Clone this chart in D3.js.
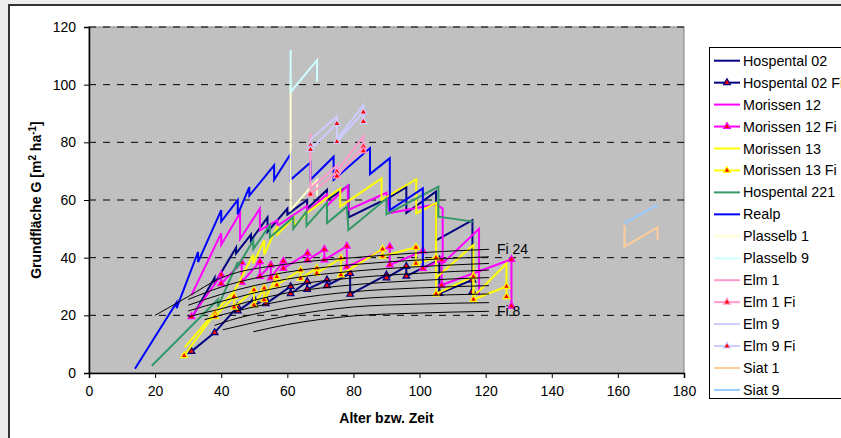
<!DOCTYPE html>
<html>
<head>
<meta charset="utf-8">
<script src="https://cdn.jsdelivr.net/npm/d3@7"></script>
<style>
  body { margin: 0; background: #ededed; }
  svg { display: block; font-family: "Liberation Sans", Arial, sans-serif; }
</style>
</head>
<body>
<svg id="chart" width="841" height="438"></svg>
<script>
// age / basal area pairs
var hospental02 = [[31,19],[38,33],[38,31],[44.5,43.5],[44.5,41.5],[49,48],[49,46],[54,54],[54,49],[60,57],[60,55],[66,60],[66,57],[72,63.5],[72,60],[78.5,65],[78.5,54],[91,61],[96,64.5],[96,55.5],[105,63],[105,46],[116,53],[116,27.5]];
var hospental02Fi = [[31,7.5],[38,14],[45,23],[45,21.5],[50,25.5],[50,23.5],[53.5,25.5],[53.5,24],[61,30],[61,27.5],[66,31.7],[66,29],[72,32.3],[72,30.3],[79,34.5],[79,27.3],[90,34],[90,33],[96,37],[96,33.6],[106,39.2],[106,27.6],[116,32.3],[116,28.2]];
var morissen12 = [[31,27],[40,48.5],[40,44.5],[45.7,55.5],[45.7,46.5],[51.7,57],[51.7,49.5],[57,53],[57,51],[66,58],[66,56],[72,62],[72,58],[78.3,65],[78.3,56.5],[90,62.5],[91,55.5],[105,58.5],[107,57],[107,38],[118,50],[118,27]];
var morissen12Fi = [[31,19.5],[40,34],[40,31],[46.2,38.3],[46.2,31.5],[51.7,38.6],[51.7,33.5],[55,37.5],[55,33],[58.8,38.8],[58.8,36.3],[66.1,41.5],[66.1,39.2],[71.2,42.9],[71.2,39.2],[78,44],[78,36.8],[91,43.8],[91,37.5],[101,42.3],[101,36.3],[106.7,39.2],[106.7,30.5],[127.8,39.4],[127.8,23.2]];
var morissen13 = [[29,9],[38,21],[44,28.5],[49.7,41],[49.7,38],[53,46],[53,41],[57,51],[57,48],[62,54],[62,51],[67,56.5],[76,64],[76,57.7],[88.5,67.5],[88.5,60],[99,67.2],[99,55.4],[105,59],[105,33],[116.3,44.4],[116.3,26.5],[126.3,38],[126.3,30]];
var morissen13Fi = [[28.8,6],[38.1,20.7],[38.1,19.5],[43.9,26.5],[43.9,22.8],[49.9,28.8],[49.9,23.6],[53,29.4],[53,25.4],[56.8,33.4],[56.8,30.5],[64,35.7],[64,32.8],[68.9,36.3],[68.9,34.6],[76.2,39.8],[76.2,34],[88.8,43],[88.8,40.5],[98.9,43.6],[98.9,38],[105,40],[105,27.4],[116.3,33.5],[116.3,25.5],[126.3,30],[126.3,26.5]];
var hospental221 = [[19,2.5],[39,25.5],[39,23],[45,38.5],[45,37],[49.7,46],[49.7,43],[54.7,51.3],[54.7,47],[61.8,54],[61.8,50],[65.8,56],[65.8,51],[72,59],[72,52],[78,57.7],[78.5,49.6],[90,60.5],[90,55],[105.7,64.6],[105.7,54.2],[116.3,52.5]];
var realp = [[13.9,1.5],[26.5,24.5],[26.5,22.5],[33,42],[33,38.5],[40,56.5],[40,52.5],[45,60],[45,55],[48.5,64.5],[48.5,61.5],[56,72],[56,67],[61,76],[61,67],[67,73],[67,67],[74,75],[74,67],[85,78],[85,69],[91,74.5],[91,56.5],[101,64],[101,37]];
var plasselb1 = [[61,102],[61,56.5],[69,67],[69,61.5]];
var plasselb9 = [[61,112],[61,97.5],[69,108.5],[69,101]];
var elm1 = [[67,83],[67,64],[75,72],[75,70],[83,82],[83,79]];
var elm1Fi = [[67,62],[75,69.8],[75,68.3],[83,78.5],[83,77]];
var elm9 = [[67,81],[75,89],[75,81],[83,93],[83,87.5]];
var elm9Fi = [[67,79],[67,77.5],[75,86.5],[75,80.2],[83,90.5],[83,87.2]];
var siat1 = [[162,51.3],[162,43.8],[172,50.5],[172,46]];
var siat9 = [[162,52],[172,58.3]];

// Fi site curves, Fi 24 down to Fi 8
var fiNames = ["Fi 24","Fi 22","Fi 20","Fi 18","Fi 16","Fi 14","Fi 12","Fi 10","Fi 8"];
var fiCurves = [
  [[20,20],[30,26.5],[40,33],[60,37.8],[80,40],[100,41.7],[121,42.9]],
  [[30,25.5],[40,29.8],[60,35],[80,37.6],[100,39.2],[121,40.3]],
  [[30,23.5],[40,27.3],[60,32.6],[80,35.3],[100,36.9],[121,38]],
  [[30,21.5],[40,24.8],[60,30.2],[80,33],[100,34.6],[121,35.7]],
  [[30,19.5],[40,22.3],[60,27.8],[80,30.6],[100,32.1],[121,33.1]],
  [[35,18.5],[40,20.1],[60,25.3],[80,28.2],[100,29.5],[121,30.3]],
  [[38,16.5],[40,17.3],[60,22.6],[80,25.6],[100,26.8],[121,27.4]],
  [[40.5,15],[60,19.8],[80,22.9],[100,23.9],[121,24.4]],
  [[49.7,14.3],[60,16.8],[80,19.8],[100,20.8],[121,21.4]]
];

var seriesNames = ["Hospental 02","Hospental 02 Fi","Morissen 12","Morissen 12 Fi","Morissen 13","Morissen 13 Fi","Hospental 221","Realp","Plasselb 1","Plasselb 9","Elm 1","Elm 1 Fi","Elm 9","Elm 9 Fi","Siat 1","Siat 9"];
var seriesData = [hospental02,hospental02Fi,morissen12,morissen12Fi,morissen13,morissen13Fi,hospental221,realp,plasselb1,plasselb9,elm1,elm1Fi,elm9,elm9Fi,siat1,siat9];
var seriesColors = ["#000080","#000080","#ff00ff","#ff00ff","#ffff00","#ffff00","#339966","#0000ff","#ffffcc","#ccffff","#ff99cc","#ff99cc","#ccccff","#ccccff","#ffcc99","#99ccff"];
var seriesMarker = [false,true,false,true,false,true,false,false,false,false,false,true,false,true,false,false];

var xTicks = [0,20,40,60,80,100,120,140,160,180];
var yTicks = [0,20,40,60,80,100,120];

var svg = d3.select("#chart");

svg.append("rect")
    .attr("x", 9).attr("y", 5)
    .attr("width", 845).attr("height", 445)
    .attr("fill", "#ffffff")
    .attr("stroke", "#333").attr("stroke-width", 2);

var x = d3.scaleLinear().domain([0,180]).range([89,684]);
var y = d3.scaleLinear().domain([0,120]).range([373,27]);

svg.append("rect")
    .attr("x", x(0)).attr("y", y(120))
    .attr("width", x(180)-x(0)).attr("height", y(0)-y(120))
    .attr("fill", "#c0c0c0")
    .attr("stroke", "#808080");

// dashed gridlines
svg.append("g").selectAll("line")
    .data(yTicks.filter(function(d){ return d > 0; }))
    .join("line")
    .attr("x1", x(0)).attr("x2", x(180))
    .attr("y1", function(d){ return y(d); }).attr("y2", function(d){ return y(d); })
    .attr("stroke", "#000").attr("stroke-width", 1)
    .attr("stroke-dasharray", "7,7");

var xAxis = svg.append("g")
    .attr("transform", "translate(0," + y(0) + ")")
    .call(d3.axisBottom(x).tickValues(xTicks).tickSize(5).tickPadding(8));
var yAxis = svg.append("g")
    .attr("transform", "translate(" + x(0) + ",0)")
    .call(d3.axisLeft(y).tickValues(yTicks).tickSize(5).tickPadding(8));
[xAxis, yAxis].forEach(function(a){
    a.selectAll("text").attr("font-size", 14).attr("fill", "#000")
        .attr("font-family", "Liberation Sans, Arial, sans-serif");
    a.selectAll("path,line").attr("stroke", "#000");
});
yAxis.select(".domain").attr("stroke-width", 1.5);
xAxis.select(".domain").attr("stroke-width", 1.5);

var line = d3.line().x(function(d){ return x(d[0]); }).y(function(d){ return y(d[1]); });

var plot = svg.append("g");
seriesData.forEach(function(data, i){
    plot.append("path")
        .attr("d", line(data))
        .attr("fill", "none")
        .attr("stroke", seriesColors[i])
        .attr("stroke-width", 2)
        .attr("stroke-linejoin", "miter");
    if (seriesMarker[i]) {
        plot.append("g").selectAll("path")
            .data(data)
            .join("path")
            .attr("transform", function(d){ return "translate(" + x(d[0]) + "," + y(d[1]) + ")"; })
            .attr("d", d3.symbol(d3.symbolTriangle).size(20))
            .attr("fill", "#ff0000")
            .attr("stroke", seriesColors[i])
            .attr("stroke-width", 1.2);
    }
});

// black Fi curves on top
var curveLine = d3.line().curve(d3.curveMonotoneX)
    .x(function(d){ return x(d[0]); }).y(function(d){ return y(d[1]); });
svg.append("g").selectAll("path")
    .data(fiCurves)
    .join("path")
    .attr("d", curveLine)
    .attr("fill", "none")
    .attr("stroke", "#000")
    .attr("stroke-width", 1);

[0, fiCurves.length-1].forEach(function(k){
    var last = fiCurves[k][fiCurves[k].length-1];
    svg.append("text")
        .attr("x", x(last[0]) + 8).attr("y", y(last[1]) + 5)
        .attr("font-size", 14)
        .text(fiNames[k]);
});

// axis titles
svg.append("text")
    .attr("x", (x(0)+x(180))/2).attr("y", 423)
    .attr("text-anchor", "middle")
    .attr("font-size", 14).attr("font-weight", "bold")
    .text("Alter bzw. Zeit");

var yt = svg.append("text")
    .attr("transform", "translate(41," + y(60) + ") rotate(-90)")
    .attr("text-anchor", "middle")
    .attr("font-size", 14).attr("font-weight", "bold");
yt.append("tspan").text("Grundfläche G [m");
yt.append("tspan").attr("font-size", 10).attr("baseline-shift", "super").text("2");
yt.append("tspan").text(" ha");
yt.append("tspan").attr("font-size", 10).attr("baseline-shift", "super").text("-1");
yt.append("tspan").text("]");

// legend
var legend = svg.append("g");
legend.append("rect")
    .attr("x", 709.5).attr("y", 47.5)
    .attr("width", 150).attr("height", 351)
    .attr("fill", "#fff").attr("stroke", "#000");

var items = legend.selectAll("g.item")
    .data(seriesNames)
    .join("g")
    .attr("class", "item")
    .attr("transform", function(d, i){ return "translate(0," + (60.7 + i*21.95) + ")"; });
items.append("line")
    .attr("x1", 714).attr("x2", 740)
    .attr("stroke", function(d, i){ return seriesColors[i]; })
    .attr("stroke-width", 2);
items.filter(function(d, i){ return seriesMarker[i]; })
    .append("path")
    .attr("transform", "translate(727,0)")
    .attr("d", d3.symbol(d3.symbolTriangle).size(20))
    .attr("fill", "#ff0000")
    .attr("stroke", function(d){ return seriesColors[seriesNames.indexOf(d)]; })
    .attr("stroke-width", 1.2);
items.append("text")
    .attr("x", 743).attr("y", 5)
    .attr("font-size", 14.3)
    .text(function(d){ return d; });
</script>
</body>
</html>
